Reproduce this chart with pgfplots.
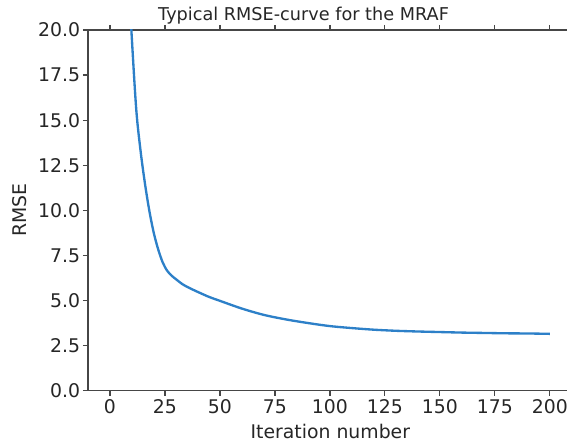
\documentclass[border=0pt]{standalone}
\usepackage{pgfplots}
\pgfplotsset{compat=1.18}
\usepackage{fontspec}
\setmainfont{DejaVu Sans}
\definecolor{mplblue}{RGB}{45,128,200}
\definecolor{spine}{RGB}{70,70,70}
\begin{document}
\begin{tikzpicture}
\begin{axis}[
  scale only axis,
  width=287.4pt, height=216.4pt,
  xmin=-10, xmax=207.8,
  ymin=0, ymax=20,
  axis x line*=box, axis y line*=left,
  axis line style={spine, line width=0.8pt},
  xtick={0,25,...,200},
  ytick={0,2.5,...,20},
  tick align=outside,
  major tick length=3pt,
  tick style={spine, line width=0.7pt},
  /pgf/number format/assume math mode=true,
  yticklabel={\pgfmathprintnumber[fixed,fixed zerofill,precision=1]{\tick}},
  ticklabel style={font=\fontsize{11.3}{13}\selectfont, text=black!85},
  yticklabel style={inner sep=1.5pt},
  xticklabel style={inner sep=2pt},
  xlabel={Iteration number},
  ylabel={RMSE},
  xlabel style={font=\fontsize{11.3}{13}\selectfont, text=black!85, at={(axis description cs:0.506,0)}, anchor=base, yshift=-28.6pt},
  ylabel style={font=\fontsize{11.3}{13}\selectfont, text=black!85, at={(axis description cs:-0.142,0.5)}, anchor=center, rotate=0},
  title={Typical RMSE-curve for the MRAF},
  title style={font=\fontsize{10.6}{12}\selectfont, text=black!85, at={(axis description cs:0.45,1)}, anchor=base, yshift=-0.4pt},
]
\addplot[mplblue, line width=1.4pt, smooth, tension=0.5] coordinates {
(0,60) (5,33) (8,24) (10,19.4) (12,15.5) (14,13.2) (16,11.4) (18,9.9) (20,8.7)
(22,7.8) (24,7.1) (26,6.65) (28,6.38) (30,6.18) (33,5.9) (36,5.7) (40,5.47) (45,5.2) (50,4.98)
(60,4.55) (70,4.2) (80,3.95) (90,3.75) (100,3.58) (110,3.47) (120,3.38)
(130,3.32) (140,3.28) (150,3.25) (160,3.22) (170,3.2) (180,3.18) (190,3.17) (200,3.15)
};
\end{axis}
\pgfresetboundingbox
\path[use as bounding box] ([xshift=-52.8pt,yshift=-31.4pt]current axis.south west) rectangle ([yshift=18pt]current axis.north east);
\end{tikzpicture}
\end{document}
